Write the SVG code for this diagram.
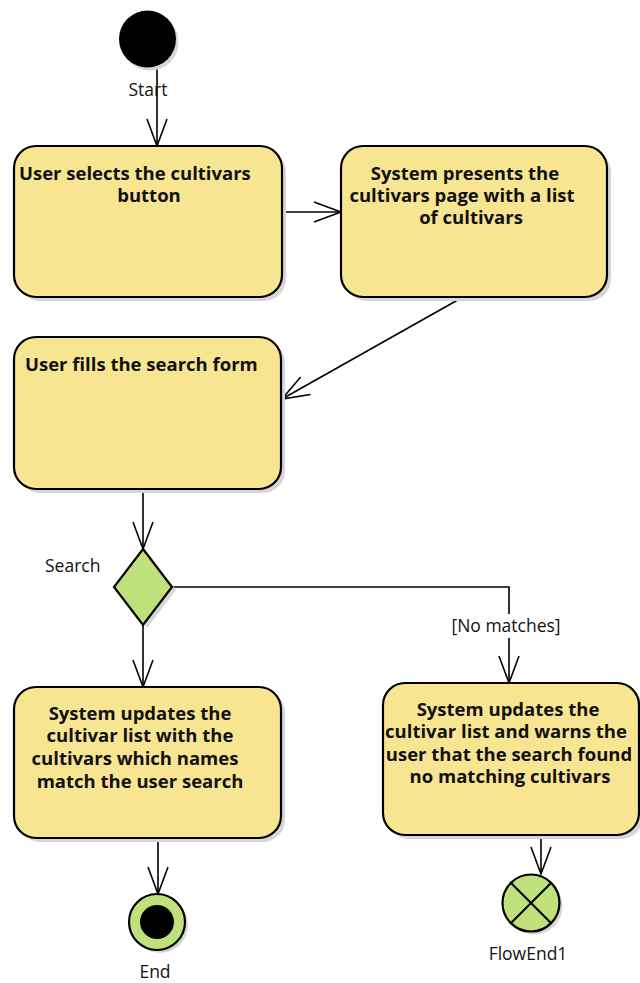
<svg xmlns="http://www.w3.org/2000/svg" width="640" height="983" viewBox="0 0 640 983">
  <style>
    .act { fill: #F8E592; stroke: #000; stroke-width: 2.2; }
    .shadow { fill: #d6d6d6; }
    .green { fill: #BFE07A; stroke: #000; stroke-width: 2.2; }
    .edge { fill: none; stroke: #000; stroke-width: 1.6; }
    .t { font-family: "Open Sans", "Noto Sans", sans-serif; font-weight: bold; font-size: 18.5px; fill: #111; }
    .lbl { font-family: "Open Sans", "Noto Sans", sans-serif; font-size: 17.5px; fill: #111; }
    .c { text-anchor: middle; }
  </style>
  <defs>
    <marker id="open" viewBox="0 0 28 22" refX="27" refY="11" markerWidth="28" markerHeight="22" markerUnits="userSpaceOnUse" orient="auto" overflow="visible">
      <path d="M0,1 L27,11 L0,21" fill="none" stroke="#000" stroke-width="1.6"/>
    </marker>
  </defs>
  <rect width="640" height="983" fill="#fff"/>

  <!-- connectors -->
  <g id="connectors">
    <path class="edge" d="M157,68 V146" marker-end="url(#open)"/>
    <path class="edge" d="M282,212 H341" marker-end="url(#open)"/>
    <path class="edge" d="M463,297 L282,399" marker-end="url(#open)"/>
    <path class="edge" d="M143,489 V549" marker-end="url(#open)"/>
    <path class="edge" d="M143,625 V687" marker-end="url(#open)"/>
    <path class="edge" d="M172,587 H509 V683" marker-end="url(#open)"/>
    <path class="edge" d="M158,838 V894" marker-end="url(#open)"/>
    <path class="edge" d="M541,835 V874" marker-end="url(#open)"/>
    <rect x="448" y="614" width="118" height="24" fill="#fff"/>
    <text class="lbl c" x="506" y="632">[No matches]</text>
  </g>

  <!-- initial node -->
  <g id="start">
    <circle cx="150" cy="42" r="28.5" class="shadow"/>
    <circle cx="147.5" cy="39" r="28.5" fill="#000"/>
    <text class="lbl c" x="148" y="96">Start</text>
  </g>

  <g id="select">
    <rect class="shadow" x="18" y="150" width="268" height="151" rx="22"/>
    <rect class="act" x="14" y="146" width="268" height="151" rx="22"/>
    <text class="t"><tspan x="19" y="180">User selects the cultivars</tspan><tspan x="149" y="202" text-anchor="middle">button</tspan></text>
  </g>

  <g id="present">
    <rect class="shadow" x="345" y="150" width="266" height="151" rx="22"/>
    <rect class="act" x="341" y="146" width="266" height="151" rx="22"/>
    <text class="t c"><tspan x="465" y="180">System presents the</tspan><tspan x="462" y="202">cultivars page with a list</tspan><tspan x="471" y="224">of cultivars</tspan></text>
  </g>

  <g id="fill">
    <rect class="shadow" x="18" y="341" width="267" height="152" rx="22"/>
    <rect class="act" x="14" y="337" width="267" height="152" rx="22"/>
    <text class="t" x="25" y="371">User fills the search form</text>
  </g>

  <g id="decision">
    <polygon class="shadow" points="147,552 176,590 147,628 118,590"/>
    <polygon class="green" points="143,549 172,587 143,625 114,587"/>
    <text class="lbl" x="45" y="572">Search</text>
  </g>

  <g id="update">
    <rect class="shadow" x="18" y="691" width="267" height="151" rx="22"/>
    <rect class="act" x="14" y="687" width="267" height="151" rx="22"/>
    <text class="t c"><tspan x="140" y="720">System updates the</tspan><tspan x="140" y="742">cultivar list with the</tspan><tspan x="135" y="765">cultivars which names</tspan><tspan x="140" y="788">match the user search</tspan></text>
  </g>

  <g id="warn">
    <rect class="shadow" x="387" y="687" width="256" height="152" rx="22"/>
    <rect class="act" x="383" y="683" width="256" height="152" rx="22"/>
    <text class="t c"><tspan x="508" y="716">System updates the</tspan><tspan x="506" y="738">cultivar list and warns the</tspan><tspan x="509" y="761">user that the search found</tspan><tspan x="510" y="783">no matching cultivars</tspan></text>
  </g>

  <g id="end">
    <circle cx="160" cy="925" r="28" class="shadow"/>
    <circle cx="157" cy="922" r="28" class="green"/>
    <circle cx="157" cy="922" r="17" fill="#000"/>
    <text class="lbl c" x="155" y="978">End</text>
  </g>

  <g id="flowend">
    <circle cx="534" cy="906" r="28.5" class="shadow"/>
    <circle cx="531" cy="903" r="28.5" class="green"/>
    <path d="M510.8,882.8 L551.2,923.2 M551.2,882.8 L510.8,923.2" stroke="#000" stroke-width="2"/>
    <text class="lbl c" x="528" y="960">FlowEnd1</text>
  </g>
</svg>
